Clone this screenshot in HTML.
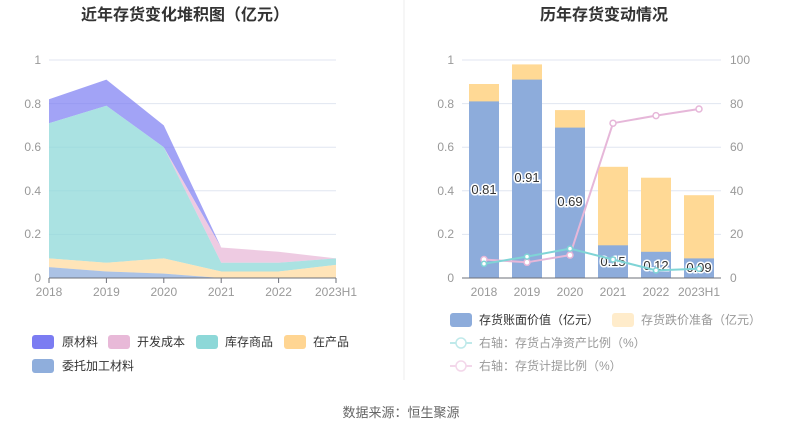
<!DOCTYPE html>
<html><head><meta charset="utf-8"><style>
body{margin:0;width:803px;height:435px;background:#fff;overflow:hidden;font-family:"Liberation Sans","Noto Sans CJK SC",sans-serif}
svg text{font-family:"Liberation Sans","Noto Sans CJK SC",sans-serif}
</style></head><body>
<svg width="803" height="435" viewBox="0 0 803 435">
<text x="185" y="20" text-anchor="middle" font-size="16" font-weight="bold" fill="#333">近年存货变化堆积图（亿元）</text>
<text x="604" y="20" text-anchor="middle" font-size="16" font-weight="bold" fill="#333">历年存货变动情况</text>
<line x1="404" y1="0" x2="404" y2="380" stroke="#eee"/>
<!-- left grid -->
<g stroke="#e0e6f1">
<line x1="49" x2="336" y1="60" y2="60"/><line x1="49" x2="336" y1="103.6" y2="103.6"/><line x1="49" x2="336" y1="147.2" y2="147.2"/><line x1="49" x2="336" y1="190.8" y2="190.8"/><line x1="49" x2="336" y1="234.4" y2="234.4"/>
</g>
<g font-size="12" fill="#999" text-anchor="end">
<text x="41" y="64">1</text><text x="41" y="108">0.8</text><text x="41" y="151">0.6</text><text x="41" y="195">0.4</text><text x="41" y="238">0.2</text><text x="41" y="282">0</text>
</g>
<!-- areas: x 49,106.4,163.8,221.2,278.6,336 ; y=278-218v -->
<polygon fill="#7b7cf2" opacity="0.7" points="49,99.2 106.4,79.6 163.8,125.4 221.2,247.5 278.6,251.8 336,258.4 336,258.4 278.6,251.8 221.2,247.5 163.8,147.2 106.4,105.8 49,123.2"/>
<polygon fill="#e8b9d8" opacity="0.75" points="49,123.2 106.4,105.8 163.8,147.2 221.2,247.5 278.6,251.8 336,258.4 336,258.4 278.6,262.7 221.2,262.7 163.8,147.2 106.4,105.8 49,123.2"/>
<polygon fill="#8dd8d8" opacity="0.75" points="49,123.2 106.4,105.8 163.8,147.2 221.2,262.7 278.6,262.7 336,258.4 336,264.9 278.6,271.5 221.2,271.5 163.8,258.4 106.4,262.7 49,258.4"/>
<polygon fill="#ffd592" opacity="0.65" points="49,258.4 106.4,262.7 163.8,258.4 221.2,271.5 278.6,271.5 336,264.9 336,278 278.6,278 221.2,278 163.8,273.6 106.4,271.5 49,267.1"/>
<polygon fill="#8faedc" opacity="0.75" points="49,267.1 106.4,271.5 163.8,273.6 221.2,278 49,278"/>
<line x1="49" x2="336" y1="278" y2="278" stroke="#6e7079"/>
<g stroke="#6e7079"><line x1="49" x2="49" y1="278" y2="283"/><line x1="106.4" x2="106.4" y1="278" y2="283"/><line x1="163.8" x2="163.8" y1="278" y2="283"/><line x1="221.2" x2="221.2" y1="278" y2="283"/><line x1="278.6" x2="278.6" y1="278" y2="283"/><line x1="336" x2="336" y1="278" y2="283"/></g>
<g font-size="12" fill="#999" text-anchor="middle">
<text x="49" y="296">2018</text><text x="106.4" y="296">2019</text><text x="163.8" y="296">2020</text><text x="221.2" y="296">2021</text><text x="278.6" y="296">2022</text><text x="336" y="296">2023H1</text>
</g>
<!-- left legend -->
<g font-size="12" fill="#333">
<rect x="32" y="335" width="22" height="14" rx="3" fill="#7b7cf2"/><text x="62" y="346">原材料</text>
<rect x="108" y="335" width="22" height="14" rx="3" fill="#e8b9d8"/><text x="137" y="346">开发成本</text>
<rect x="196" y="335" width="22" height="14" rx="3" fill="#8dd8d8"/><text x="225" y="346">库存商品</text>
<rect x="284" y="335" width="22" height="14" rx="3" fill="#ffd592"/><text x="313" y="346">在产品</text>
<rect x="32" y="359" width="22" height="14" rx="3" fill="#8faedc"/><text x="62" y="370">委托加工材料</text>
</g>
<!-- right grid -->
<g stroke="#e0e6f1">
<line x1="462" x2="721" y1="60" y2="60"/><line x1="462" x2="721" y1="103.6" y2="103.6"/><line x1="462" x2="721" y1="147.2" y2="147.2"/><line x1="462" x2="721" y1="190.8" y2="190.8"/><line x1="462" x2="721" y1="234.4" y2="234.4"/>
</g>
<g font-size="12" fill="#999" text-anchor="end">
<text x="454" y="64">1</text><text x="454" y="108">0.8</text><text x="454" y="151">0.6</text><text x="454" y="195">0.4</text><text x="454" y="238">0.2</text><text x="454" y="282">0</text>
</g>
<g font-size="12" fill="#999" text-anchor="start">
<text x="730" y="64">100</text><text x="730" y="108">80</text><text x="730" y="151">60</text><text x="730" y="195">40</text><text x="730" y="238">20</text><text x="730" y="282">0</text>
</g>
<!-- bars: centers 484,527,570,613,656,699 width 30 -->
<g fill="#ffd995">
<rect x="469" y="84" width="30" height="194"/><rect x="512" y="64.4" width="30" height="213.6"/><rect x="555" y="110.1" width="30" height="167.9"/><rect x="598" y="166.8" width="30" height="111.2"/><rect x="641" y="177.7" width="30" height="100.3"/><rect x="684" y="195.2" width="30" height="82.8"/>
</g>
<g fill="#8dacdb">
<rect x="469" y="101.4" width="30" height="176.6"/><rect x="512" y="79.6" width="30" height="198.4"/><rect x="555" y="127.6" width="30" height="150.4"/><rect x="598" y="245.3" width="30" height="32.7"/><rect x="641" y="251.8" width="30" height="26.2"/><rect x="684" y="258.4" width="30" height="19.6"/>
</g>
<line x1="462" x2="721" y1="278" y2="278" stroke="#6e7079"/>
<g font-size="12" fill="#999" text-anchor="middle">
<text x="484" y="296">2018</text><text x="527" y="296">2019</text><text x="570" y="296">2020</text><text x="613" y="296">2021</text><text x="656" y="296">2022</text><text x="699" y="296">2023H1</text>
</g>
<g font-size="13" fill="#333" text-anchor="middle" stroke="#fff" stroke-width="3" paint-order="stroke">
<text x="484" y="194">0.81</text><text x="527" y="182">0.91</text><text x="570" y="206">0.69</text><text x="613" y="266">0.15</text><text x="656" y="270">0.12</text><text x="699" y="272">0.09</text>
</g>
<polyline fill="none" stroke="#e6b7d9" stroke-width="2" points="484,259.5 527,262.3 570,255.1 613,123.2 656,115.6 699,109"/>
<g fill="#fff" stroke="#e6b7d9" stroke-width="1.5"><circle cx="484" cy="259.5" r="3"/><circle cx="527" cy="262.3" r="3"/><circle cx="570" cy="255.1" r="3"/><circle cx="613" cy="123.2" r="3"/><circle cx="656" cy="115.6" r="3"/><circle cx="699" cy="109" r="3"/></g>
<polyline fill="none" stroke="#7fd4d6" stroke-width="2" points="484,263.8 527,256.6 570,248.6 613,259.5 656,270.4 699,268.8"/>
<g fill="#fff" stroke="#7fd4d6" stroke-width="1.5"><circle cx="484" cy="263.8" r="2.5"/><circle cx="527" cy="256.6" r="2.5"/><circle cx="570" cy="248.6" r="2.5"/><circle cx="613" cy="259.5" r="2.5"/><circle cx="656" cy="270.4" r="2.5"/><circle cx="699" cy="268.8" r="2.5"/></g>
<!-- right legend -->
<g font-size="12">
<rect x="450" y="313" width="22" height="14" rx="3" fill="#8dacdb"/><text x="479" y="324" fill="#333">存货账面价值（亿元）</text>
<rect x="612" y="313" width="22" height="14" rx="3" fill="#ffeccb"/><text x="641" y="324" fill="#999">存货跌价准备（亿元）</text>
<line x1="450" x2="472" y1="343" y2="343" stroke="#bfe9ea" stroke-width="2"/><circle cx="461" cy="343" r="5" fill="#fff" stroke="#bfe9ea" stroke-width="1.5"/><text x="479" y="347" fill="#999">右轴：存货占净资产比例（%）</text>
<line x1="450" x2="472" y1="366" y2="366" stroke="#f3d7ea" stroke-width="2"/><circle cx="461" cy="366" r="5" fill="#fff" stroke="#f3d7ea" stroke-width="1.5"/><text x="479" y="370" fill="#999">右轴：存货计提比例（%）</text>
</g>
<text x="401" y="417" text-anchor="middle" font-size="13" fill="#666">数据来源：恒生聚源</text>
</svg>
</body></html>
